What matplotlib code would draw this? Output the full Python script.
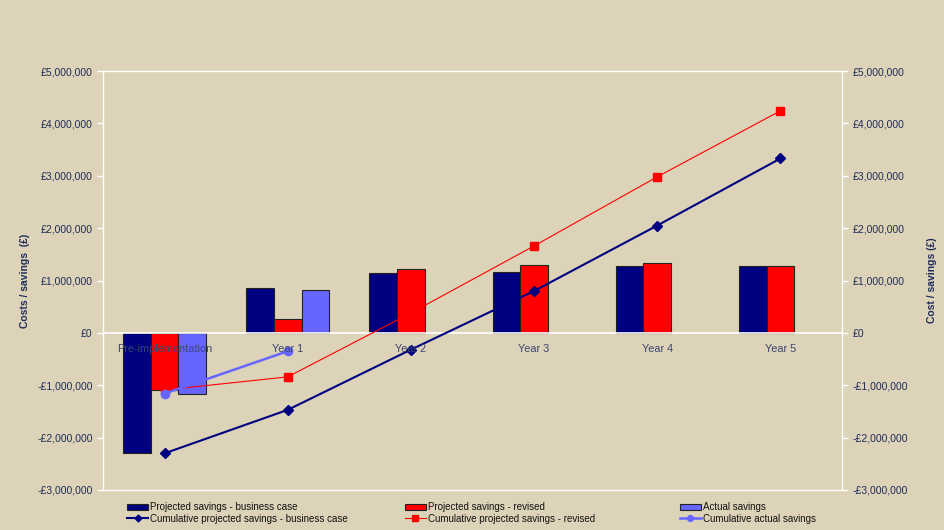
import numpy as np
import matplotlib.pyplot as plt
from matplotlib.ticker import FuncFormatter

plt.rcParams['font.family'] = ['Liberation Sans', 'DejaVu Sans']

categories = ["Pre-implementation", "Year 1", "Year 2", "Year 3", "Year 4", "Year 5"]
proj_business = [-2300000, 850000, 1140000, 1160000, 1280000, 1280000]
proj_revised = [-1090000, 270000, 1220000, 1300000, 1340000, 1280000]
actual = [-1160000, 820000]
cum_business = [-2300000, -1470000, -320000, 800000, 2050000, 3330000]
cum_revised = [-1090000, -840000, 380000, 1660000, 2980000, 4240000]
cum_actual = [-1160000, -350000]

bg = "#DDD3B8"
txt = "#1F2D5A"
navy = "#000080"
red = "#FF0000"
lilac = "#6666FF"


def money(v, pos):
    if v < 0:
        return "-£{:,.0f}".format(-v)
    return "£{:,.0f}".format(v)


fig = plt.figure(figsize=(9.45, 5.3), dpi=100, facecolor=bg)
ax = fig.add_axes([0.109, 0.0755, 0.782, 0.7905], facecolor=bg)

x = np.arange(len(categories)) + 0.5
w = 0.225
b1 = ax.bar(x - w, proj_business, w, color=navy, edgecolor="#222222", linewidth=0.8)
b2 = ax.bar(x, proj_revised, w, color=red, edgecolor="#222222", linewidth=0.8)
b3 = ax.bar(x[:len(actual)] + w, actual, w, color=lilac, edgecolor="#222222", linewidth=0.8)

l1, = ax.plot(x, cum_business, color=navy, lw=1.5, marker="D", ms=5)
l2, = ax.plot(x, cum_revised, color=red, lw=0.8, marker="s", ms=6)
l3, = ax.plot(x[:len(cum_actual)], cum_actual, color=lilac, lw=1.8, marker="o", ms=6)

ax.axhline(0, color="white", lw=1.2, zorder=1.5)
ax.set_xlim(0, 6)
ax.set_ylim(-3000000, 5000000)
ax.set_yticks(np.arange(-3000000, 5000001, 1000000))
ax.yaxis.set_major_formatter(FuncFormatter(money))
ax.set_xticks(np.arange(0, 7))
ax.set_xticklabels([])
ax.tick_params(axis="x", length=0)
ax.tick_params(axis="y", colors="white", labelcolor=txt, labelsize=7.5, length=4, width=1)
for s in ax.spines.values():
    s.set_color("white")
    s.set_linewidth(1)
for xi, c in zip(x, categories):
    ax.text(xi, -310000, c, ha="center", va="center", fontsize=7.8, color="#3A4670")
ax.set_ylabel("Costs / savings  (£)", color=txt, fontsize=7.5, fontweight="bold", labelpad=5)

ax2 = ax.twinx()
ax2.set_ylim(ax.get_ylim())
ax2.set_yticks(ax.get_yticks())
ax2.yaxis.set_major_formatter(FuncFormatter(money))
ax2.tick_params(axis="y", colors="white", labelcolor=txt, labelsize=7.5, length=4, width=1)
for s in ax2.spines.values():
    s.set_visible(False)
ax2.set_ylabel("Cost / savings (£)", color=txt, fontsize=7.5, fontweight="bold", labelpad=14)

# legend: three columns, each a bar entry over its cumulative line
columns = [
    ([b1, l1], ["Projected savings - business case", "Cumulative projected savings - business case"], 0.125),
    ([b2, l2], ["Projected savings - revised", "Cumulative projected savings - revised"], 0.419),
    ([b3, l3], ["Actual savings", "Cumulative actual savings"], 0.71),
]
for h, lab, xa in columns:
    leg = fig.legend(h, lab, loc="lower left", bbox_to_anchor=(xa, -0.005),
                     frameon=False, fontsize=7, handlelength=2.2, handletextpad=0.2,
                     labelspacing=0.15, markerscale=0.7)
    for t in leg.get_texts():
        t.set_color("#111111")

fig.savefig("out.png", dpi=100, facecolor=bg)
